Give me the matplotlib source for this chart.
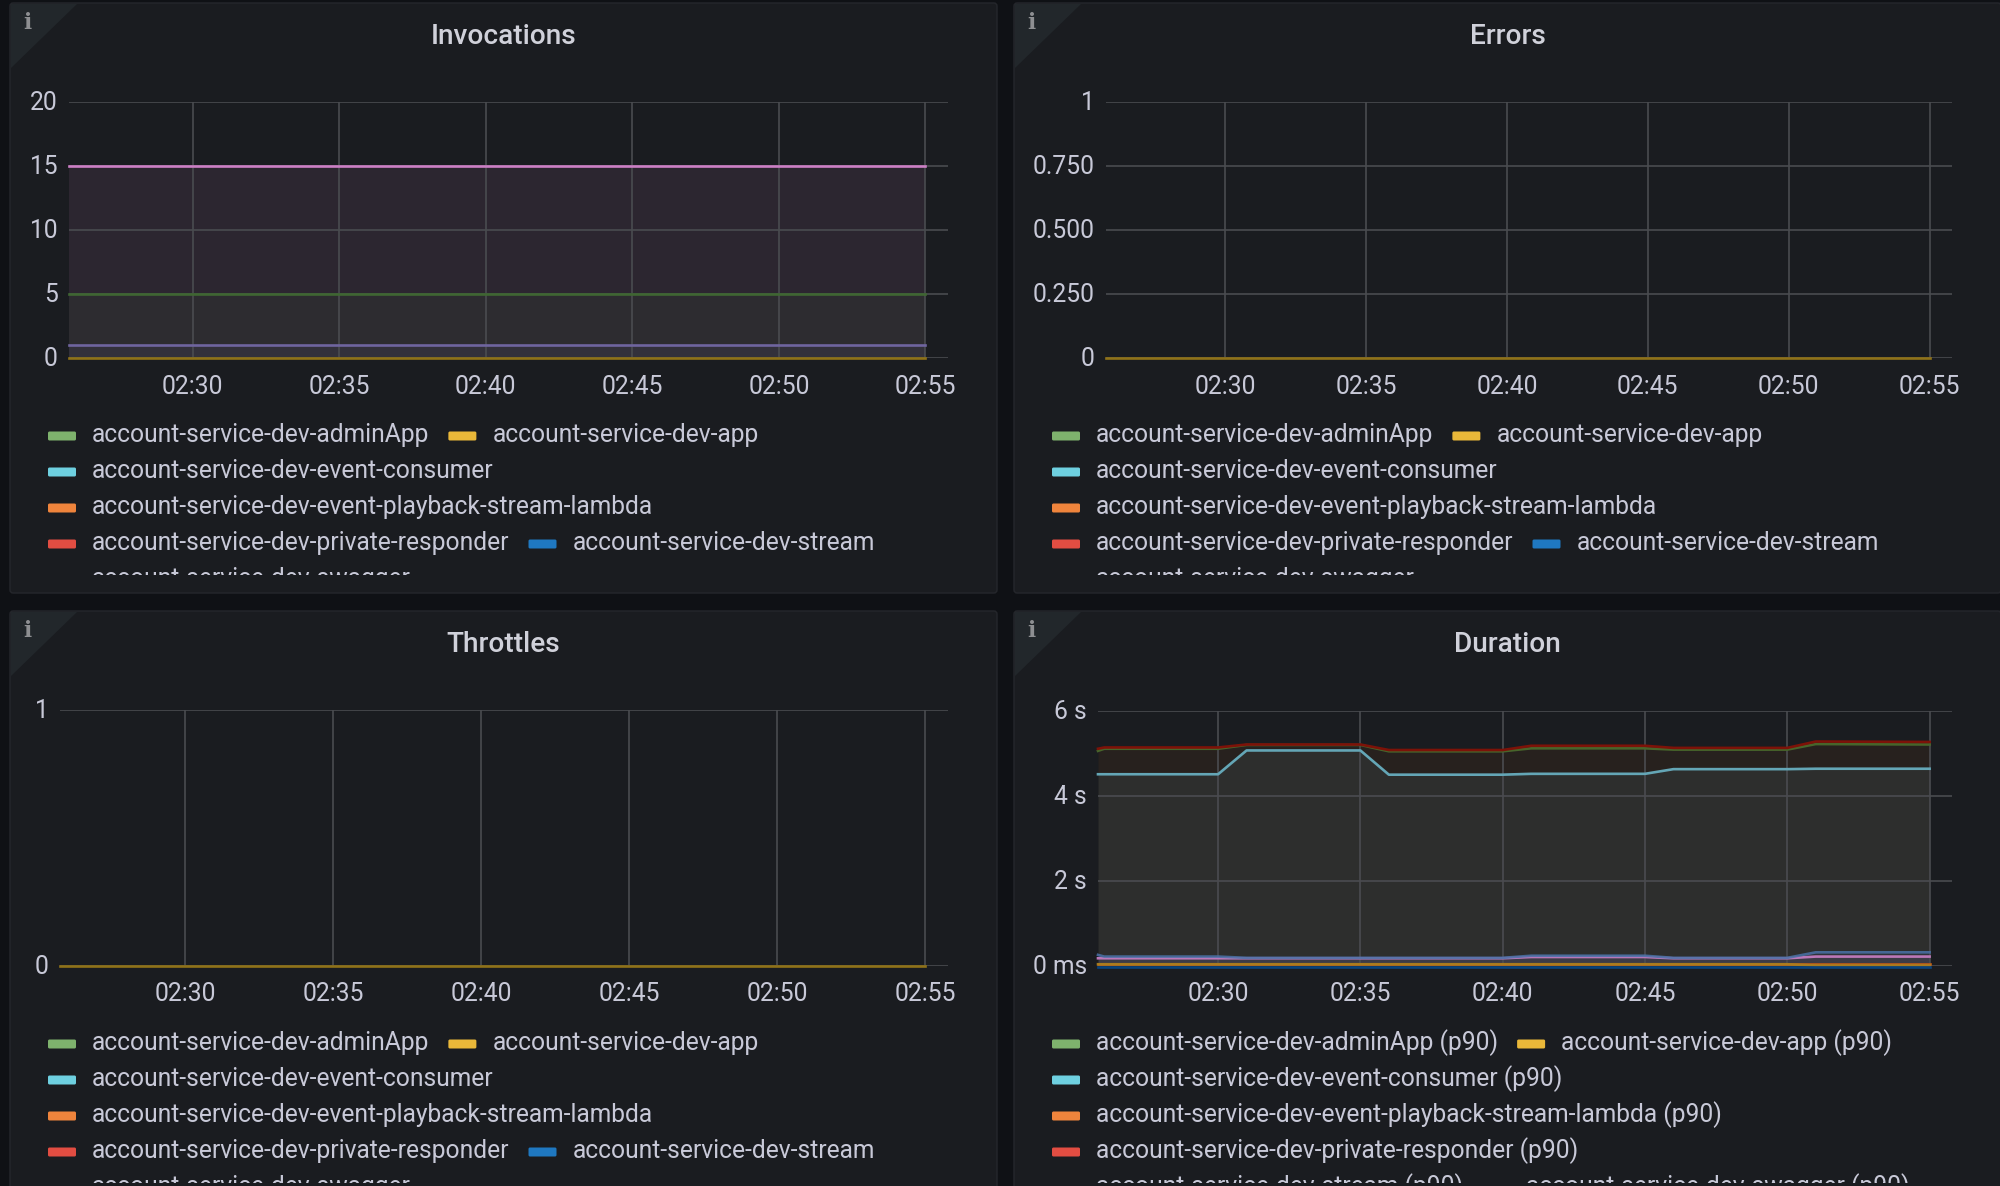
import matplotlib
matplotlib.use("Agg")
import matplotlib.pyplot as plt
from matplotlib.patches import FancyBboxPatch, Polygon
from matplotlib.transforms import Affine2D, Bbox, IdentityTransform

W, H = 2000, 1186
PAGE_BG = "#0f1115"
PANEL_BG = "#1a1c20"
GRID = "#4a4c50"
TEXT = "#c8c9d8"

plt.rcParams["font.family"] = ["Roboto", "DejaVu Sans"]

# x values are minutes past 02:00
tick_minutes = [30, 35, 40, 45, 50, 55]
tick_labels = ["02:30", "02:35", "02:40", "02:45", "02:50", "02:55"]
x_limits = (25.78, 55.77)
flat_times = [25.78, 55]

base_names = [
    "account-service-dev-adminApp",
    "account-service-dev-app",
    "account-service-dev-event-consumer",
    "account-service-dev-event-playback-stream-lambda",
    "account-service-dev-private-responder",
    "account-service-dev-stream",
    "account-service-dev-swagger",
]
duration_names = [name + " (p90)" for name in base_names]
legend_colors = ["#7EB26D", "#EAB839", "#6ED0E0", "#EF843C", "#E24D42", "#1F78C1", "#BA43A9"]

# Invocations
inv_pink = [15, 15]
inv_green = [5, 5]
inv_violet = [1, 1]
inv_yellow = [0, 0]
inv_ticks = [0, 5, 10, 15, 20]

# Errors and Throttles sit on zero
err_zero = [0, 0]
err_ticks = [0, 0.25, 0.5, 0.75, 1]
err_labels = ["0", "0.250", "0.500", "0.750", "1"]
thr_zero = [0, 0]
thr_ticks = [0, 1]

# Duration, seconds
dur_times = [25.78, 26, 30, 31, 35, 36, 40, 41, 45, 46, 50, 51, 55]
dur_red = [5.10, 5.13, 5.13, 5.20, 5.20, 5.07, 5.07, 5.17, 5.17, 5.12, 5.12, 5.27, 5.26]
dur_green = [5.05, 5.10, 5.10, 5.19, 5.19, 5.04, 5.04, 5.11, 5.11, 5.08, 5.08, 5.21, 5.20]
dur_cyan = [4.50, 4.50, 4.50, 5.06, 5.06, 4.49, 4.49, 4.51, 4.51, 4.62, 4.62, 4.63, 4.63]
dur_blue = [0.25, 0.21, 0.21, 0.18, 0.18, 0.18, 0.18, 0.23, 0.23, 0.18, 0.18, 0.31, 0.31]
dur_pink = [0.17, 0.17, 0.17, 0.17, 0.17, 0.17, 0.17, 0.20, 0.20, 0.17, 0.17, 0.21, 0.21]
dur_orange = [0.03] * 13
dur_yellow = [0.03, 0.03, 0.03, 0.03, 0.03, 0.03, 0.03, 0.03, 0.03, 0.03, 0.03, 0.0, 0.0]
dur_navy = [-0.03] * 13
dur_ticks = [0, 2, 4, 6]
dur_labels = ["0 ms", "2 s", "4 s", "6 s"]

fig = plt.figure(figsize=(W / 100, H / 100), dpi=100, facecolor=PAGE_BG)
renderer = fig.canvas.get_renderer()


def fy(y):
    return H - y


def draw_panel(left, top, right, bottom, title):
    fig.add_artist(FancyBboxPatch((left, fy(bottom)), right - left, bottom - top,
                                  boxstyle="round,pad=0,rounding_size=3",
                                  facecolor=PANEL_BG, edgecolor="#25272c", linewidth=1,
                                  transform=IdentityTransform(), zorder=-3))
    fig.add_artist(Polygon([(left + 1, fy(top + 1)), (left + 67, fy(top + 1)), (left + 1, fy(top + 65))],
                           facecolor="#22272b", edgecolor="none",
                           transform=IdentityTransform(), zorder=-2))
    fig.text((left + 17) / W, 1 - (top + 20) / H, "i", family="DejaVu Serif", weight="bold",
             fontsize=15.5, color="#8e8f92", ha="center", va="center")
    fig.text((left + right) / 2 / W, 1 - (top + 33.5) / H, title, fontsize=20.2, weight="medium",
             color="#d0d1da", ha="center", va="center")


def draw_legend(left, top, names):
    clip = Bbox([[0, fy(top + 572)], [W, H]])
    limit = left + 960
    x = left + 38
    row = 0
    for name, color in zip(names, legend_colors):
        label = fig.text(0, 0, name, fontsize=17.75, color=TEXT, va="baseline")
        width = label.get_window_extent(renderer).width
        if x + 44 + width > limit and x > left + 38:
            row += 1
            x = left + 38
        y = top + 439 + row * 36
        label.set_position(((x + 44) / W, 1 - y / H))
        label.set_clip_box(clip)
        label.set_clip_on(True)
        swatch = FancyBboxPatch((x, fy(y - 1.5)), 28, 9, boxstyle="round,pad=0,rounding_size=1.5",
                                facecolor=color, edgecolor="none", transform=IdentityTransform())
        fig.add_artist(swatch)
        swatch.set_clip_path(None)
        swatch.set_clip_box(clip)
        swatch.set_clip_on(True)
        x += 44 + width + 19


def make_axes(left, top, right, bottom, ylim, yticks, ylabels=None):
    ax = fig.add_axes([left / W, 1 - bottom / H, (right - left) / W, (bottom - top) / H])
    ax.patch.set_alpha(0)
    ax.set_xlim(*x_limits)
    ax.set_ylim(*ylim)
    ax.set_xticks(tick_minutes, tick_labels)
    ax.set_yticks(yticks, ylabels if ylabels else [str(v) for v in yticks])
    ax.tick_params(length=0, labelsize=17.75, labelcolor=TEXT)
    ax.tick_params(axis="x", pad=12)
    ax.tick_params(axis="y", pad=8)
    ax.grid(True, color=GRID, linewidth=1.2)
    ax.set_axisbelow(False)
    # y labels sit a pixel above their gridline
    for label in ax.get_yticklabels():
        label.set_transform(label.get_transform() + Affine2D().translate(0, 1.3))
    for spine in ax.spines.values():
        spine.set_visible(False)
    return ax


def add_series(ax, times, values, color, alpha=1.0):
    ax.fill_between(times, 0, values, color=color, alpha=0.1, linewidth=0, zorder=1)
    ax.plot(times, values, color=color, linewidth=1.9, alpha=alpha, clip_on=False, zorder=3)


# Invocations
draw_panel(10, 3, 997, 593, "Invocations")
ax = make_axes(69, 102, 948, 358, (0, 20), inv_ticks)
add_series(ax, flat_times, inv_pink, "#CC7FC5")
add_series(ax, flat_times, inv_green, "#3F6632")
add_series(ax, flat_times, inv_violet, "#6F659F")
add_series(ax, flat_times, inv_yellow, "#8F7218")
draw_legend(10, 3, base_names)

# Errors
draw_panel(1014, 3, 2001, 593, "Errors")
ax = make_axes(1106, 102, 1951.5, 358, (0, 1), err_ticks, err_labels)
add_series(ax, flat_times, err_zero, "#8F7218")
draw_legend(1014, 3, base_names)

# Throttles
draw_panel(10, 611, 997, 1200, "Throttles")
ax = make_axes(60, 710, 948, 965.5, (0, 1), thr_ticks)
add_series(ax, flat_times, thr_zero, "#8F7218")
draw_legend(10, 611, base_names)

# Duration
draw_panel(1014, 611, 2001, 1200, "Duration")
ax = make_axes(1098, 710.5, 1951.5, 965.5, (0, 6), dur_ticks, dur_labels)
add_series(ax, dur_times, dur_green, "#47652B")
add_series(ax, dur_times, dur_red, "#7D1208")
add_series(ax, dur_times, dur_cyan, "#64A6B6")
add_series(ax, dur_times, dur_pink, "#BC78B8")
add_series(ax, dur_times, dur_blue, "#4A72A8", alpha=0.85)
add_series(ax, dur_times, dur_orange, "#C15C17")
add_series(ax, dur_times, dur_yellow, "#A88520", alpha=0.8)
add_series(ax, dur_times, dur_navy, "#0A437C")
draw_legend(1014, 611, duration_names)

fig.savefig("out.png", dpi=100, facecolor=PAGE_BG)
